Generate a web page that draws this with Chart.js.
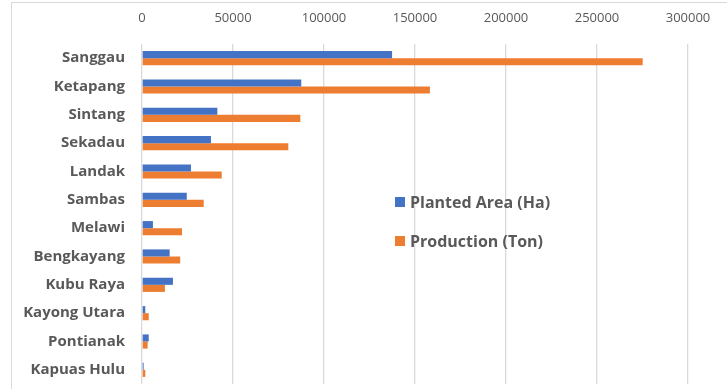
<!DOCTYPE html>
<html>
<head>
<meta charset="utf-8">
<script src="https://cdn.jsdelivr.net/npm/chart.js@4/dist/chart.umd.min.js"></script>
<style>
  html, body { margin: 0; padding: 0; background: #fff; }
  #wrap { position: relative; width: 727px; height: 389px; overflow: hidden; }
  #frame { position: absolute; left: 11px; top: 2px; width: 800px; height: 500px;
           border-left: 1px solid #d9d9d9; border-top: 1px solid #d9d9d9; }
  canvas { position: absolute; left: 0; top: 0; }
</style>
</head>
<body>
<div id="wrap">
  <div id="frame"></div>
  <canvas id="myChart" width="727" height="389"></canvas>
</div>
<script>
const regencies = ['Sanggau', 'Ketapang', 'Sintang', 'Sekadau', 'Landak', 'Sambas',
  'Melawi', 'Bengkayang', 'Kubu Raya', 'Kayong Utara', 'Pontianak', 'Kapuas Hulu'];
const plantedArea = [137400, 87500, 41400, 37900, 26900, 24600, 6000, 15200, 17000, 1800, 3700, 900];
const production = [275100, 158200, 87000, 80400, 43800, 33900, 22000, 21000, 12600, 3700, 3100, 1800];
const xTicks = [0, 50000, 100000, 150000, 200000, 250000, 300000];

const grey = '#595959';
const fontFam = '"Open Sans", Lato, sans-serif';

// legend sits inside the plot, drawn by hand
const sideLegend = {
  id: 'sideLegend',
  afterDraw(chart) {
    const c = chart.ctx;
    c.save();
    c.font = 'bold 16px ' + fontFam;
    c.textBaseline = 'middle';
    chart.data.datasets.forEach((ds, i) => {
      const y = 202 + i * 39;
      c.fillStyle = ds.backgroundColor;
      c.fillRect(395, y - 5, 10, 10);
      c.fillStyle = grey;
      c.fillText(ds.label, 410, y + 1);
    });
    c.restore();
  }
};

var ctx = document.getElementById('myChart');
var myChart = new Chart(ctx, {
  type: 'bar',
  data: {
    labels: regencies,
    datasets: [
      { label: 'Planted Area (Ha)', data: plantedArea, backgroundColor: '#4472C4' },
      { label: 'Production (Ton)', data: production, backgroundColor: '#ED7D31' }
    ]
  },
  options: {
    responsive: false,
    animation: false,
    indexAxis: 'y',
    categoryPercentage: 0.5,
    barPercentage: 1,
    layout: { padding: { left: 0, right: 39, top: 0, bottom: 5 } },
    plugins: { legend: { display: false }, tooltip: { enabled: false } },
    scales: {
      x: {
        position: 'top',
        min: 0,
        max: 300000,
        afterBuildTicks(scale) { scale.ticks = xTicks.map(v => ({ value: v })); },
        afterFit(scale) {
          scale.height = 44;
          scale.paddingLeft = 0;
          scale.paddingRight = 0;
        },
        grid: { color: '#d9d9d9', lineWidth: 1.3, drawTicks: false },
        border: { display: false },
        ticks: {
          color: grey, font: { family: fontFam, size: 13 }, padding: 18, maxRotation: 0,
          callback: v => String(v)
        }
      },
      y: {
        afterFit(scale) {
          scale.width = 142;
          scale.paddingTop = 0;
          scale.paddingBottom = 0;
        },
        grid: { display: false, drawTicks: false },
        border: { display: false },
        ticks: { color: grey, font: { family: fontFam, size: 15, weight: 'bold' }, padding: 17, autoSkip: false }
      }
    }
  },
  plugins: [sideLegend]
});
</script>
</body>
</html>
